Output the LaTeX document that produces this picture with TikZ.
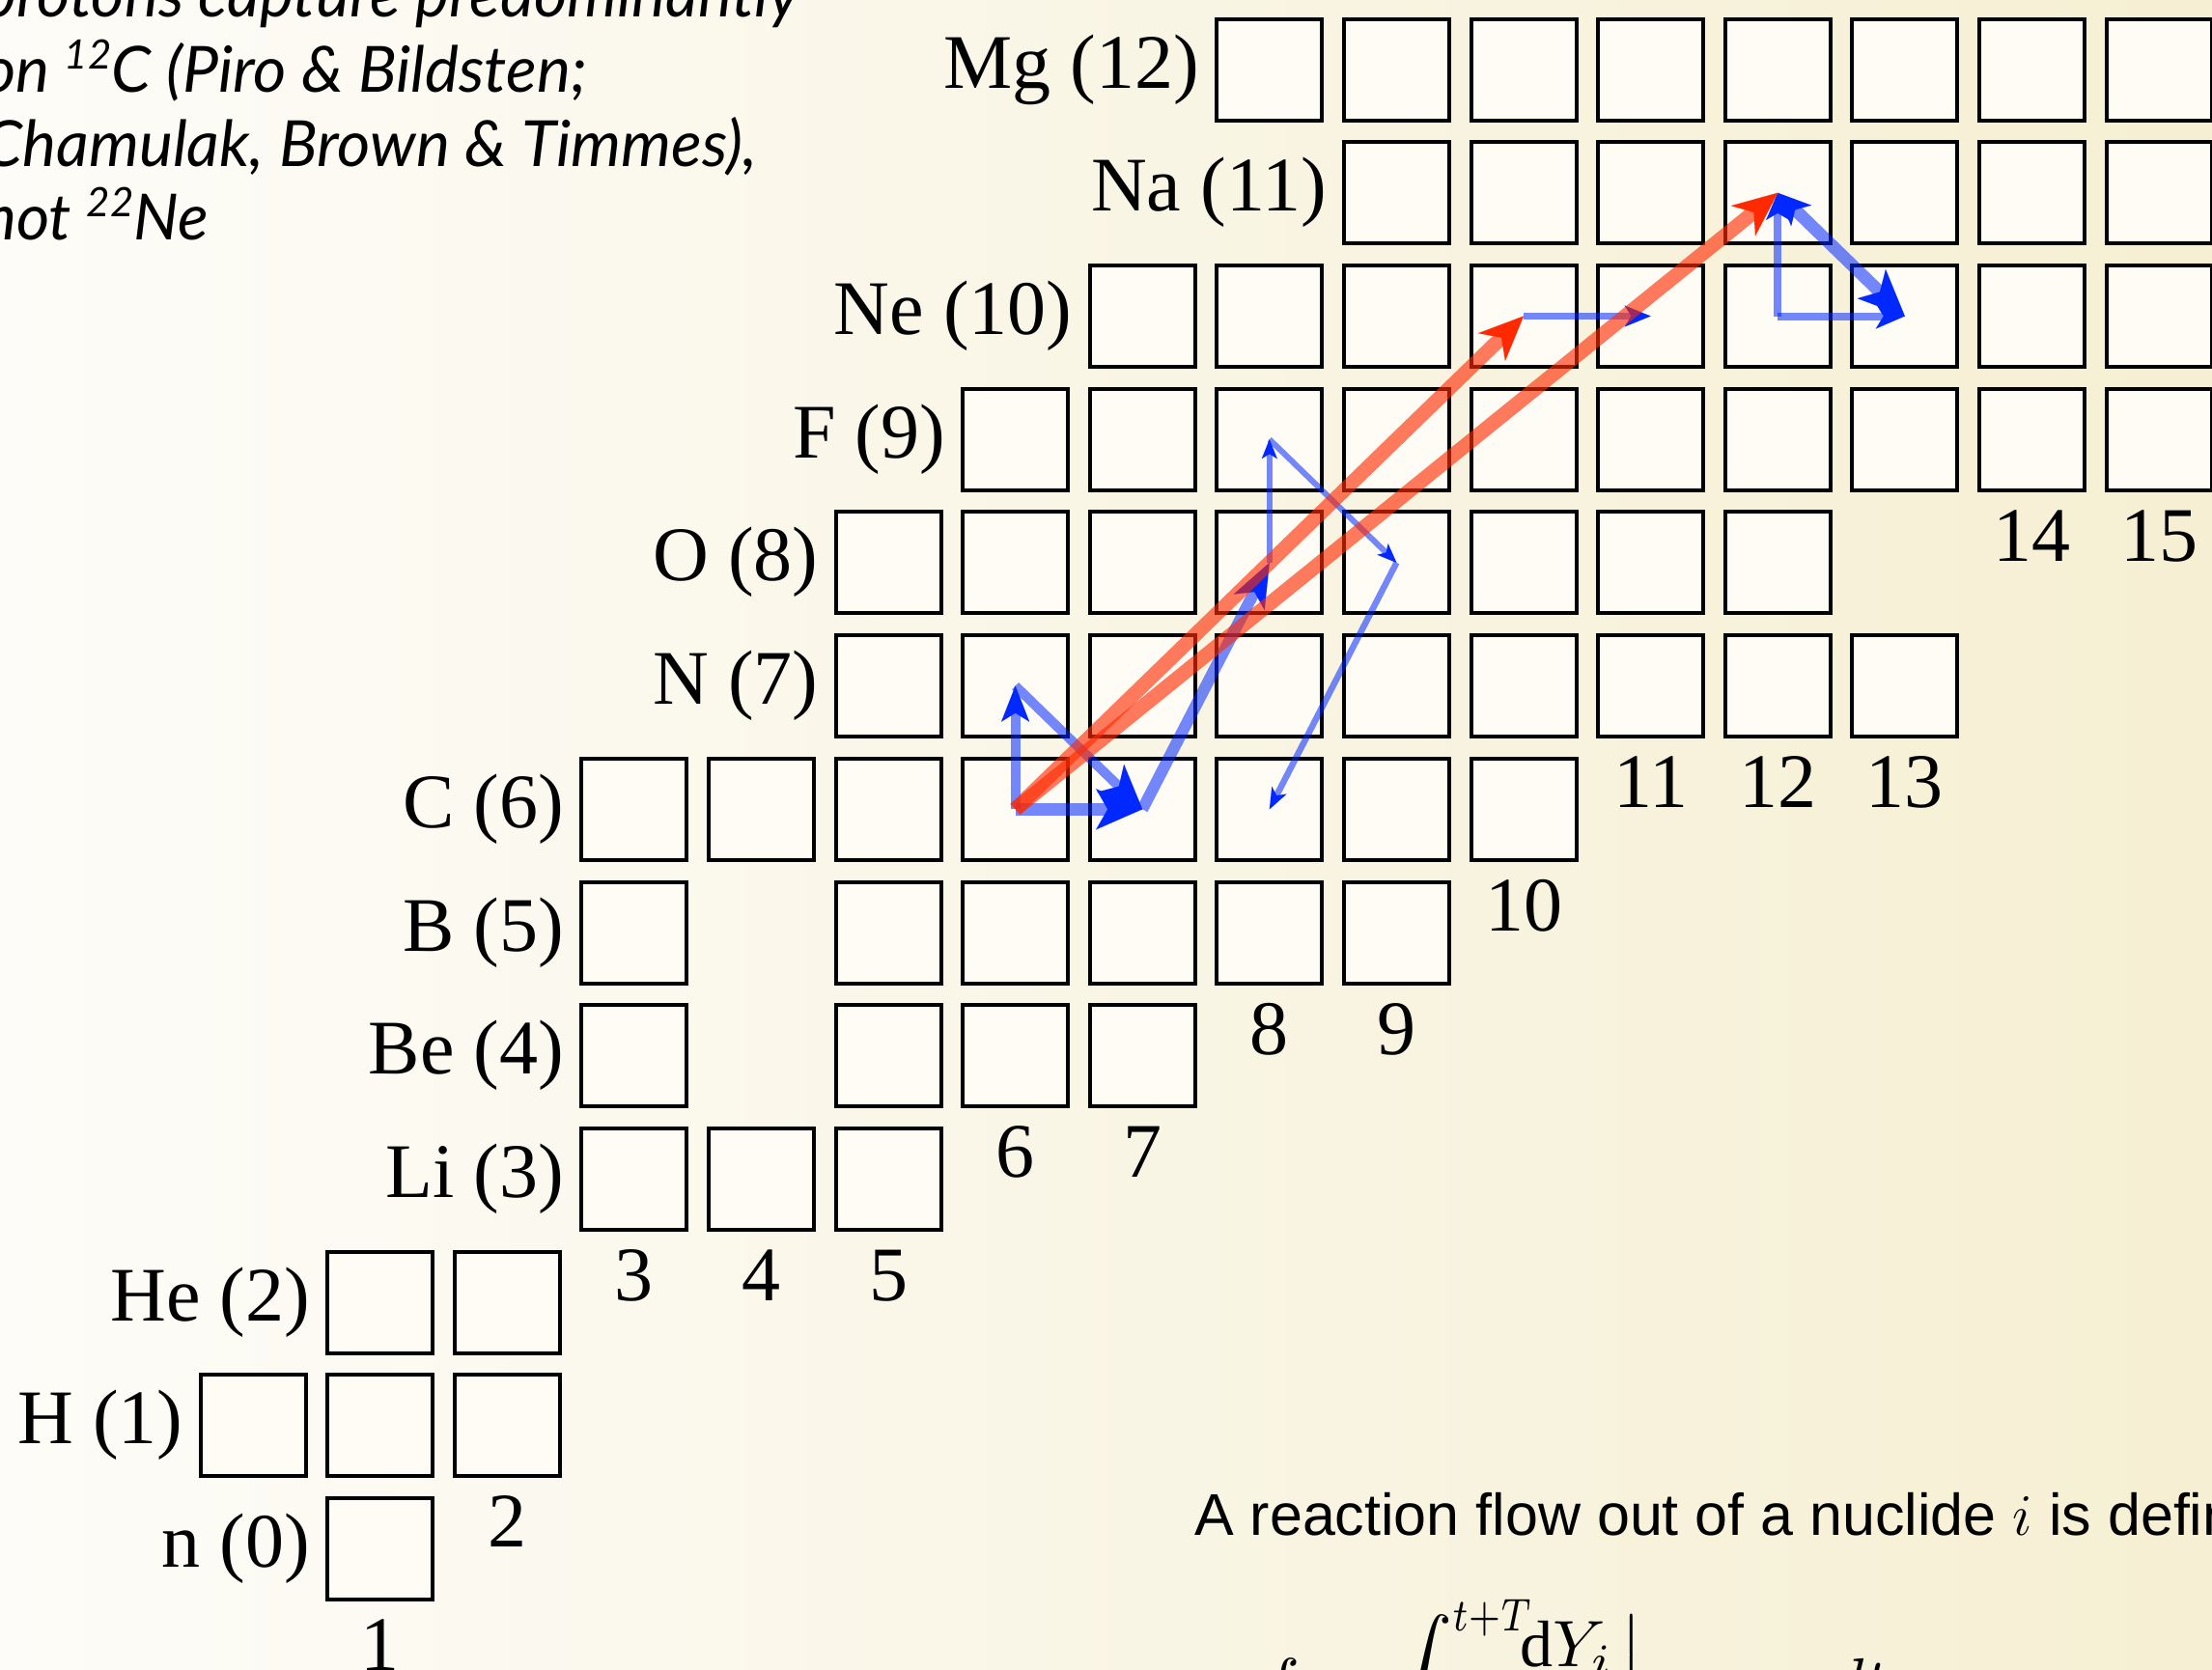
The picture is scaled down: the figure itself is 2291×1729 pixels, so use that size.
\RequirePackage{fix-cm}
\documentclass[tikz,border=0pt]{standalone}
\usepackage{graphicx}
\usepackage{fontspec}
\setmainfont{Liberation Serif}
\newfontfamily\capsans{Liberation Sans}
\newfontfamily\notesans{Lato}
\usetikzlibrary{arrows.meta,calc}
\definecolor{bgL}{RGB}{253,252,248}
\definecolor{bgR}{RGB}{246,239,211}
\definecolor{boxfill}{RGB}{255,252,245}
\definecolor{flowblue}{RGB}{0,40,255}
\definecolor{flowred}{RGB}{255,42,0}
\newcommand\bigserif{\fontsize{80}{96}\selectfont}
\newcommand\notefont{\notesans\itshape\fontsize{66}{77}\selectfont}
\newcommand\capfont{\capsans\fontsize{61}{72}\selectfont}
\newcommand\isosup[1]{\raisebox{24pt}{\fontsize{42}{42}\selectfont #1}}
\begin{document}
\begin{tikzpicture}[x=1pt,y=-1pt,
  nuc/.style={draw=black, line width=4pt, fill=boxfill, minimum width=109pt, minimum height=105pt, inner sep=0pt, outer sep=0pt},
  elem/.style={font=\bigserif, anchor=base east, inner sep=0pt},
  num/.style={font=\bigserif, anchor=base, inner sep=0pt},
  note/.style={font=\notefont, anchor=base west, inner sep=0pt},
  formula/.style={font=\fontsize{10}{12}\selectfont, anchor=base west, inner sep=0pt},
  blueline/.style={draw=flowblue, draw opacity=.55},
  redline/.style={draw=flowred, draw opacity=.62},
  head/.style n args={4}{draw=#1, fill=#1, line width=.01pt, -{Stealth[length=#2, width=#3, inset=#4]}},
]
\useasboundingbox (0,0) rectangle (2291,1729);
\clip (0,0) rectangle (2291,1729);
\shade[left color=bgL, right color=bgR] (0,0) rectangle (2291,1729);

% nuclide boxes
\foreach \z/\ns in {0/{1}, 1/{0,1,2}, 2/{1,2}, 3/{3,4,5}, 4/{3,5,6,7}, 5/{3,5,6,7,8,9}, 6/{3,...,10}, 7/{5,...,13}, 8/{5,...,12}, 9/{6,...,15}, 10/{7,...,15}, 11/{9,...,15}, 12/{8,...,15}}{
  \foreach \n in \ns {
    \node[nuc] (c\n x\z) at ({262+131.6*\n},{1604.5-127.7*\z}) {};
  }
}

% element labels
\foreach \z/\n/\lab in {0/1/n (0), 1/0/H (1), 2/1/He (2), 3/3/Li (3), 4/3/Be (4), 5/3/B (5), 6/3/C (6), 7/5/N (7), 8/5/O (8), 9/6/F (9), 10/7/Ne (10), 11/9/Na (11), 12/8/Mg (12)}{
  \node[elem] (lab\z) at ($(c\n x\z.center)+(-72.5,19)$) {\lab};
}

% neutron numbers
\foreach \n/\z in {1/0, 2/1, 3/3, 4/3, 5/3, 6/4, 7/4, 8/5, 9/5, 10/6, 11/7, 12/7, 13/7, 14/9, 15/9}{
  \node[num] (num\n) at ($(c\n x\z.center)+(0,126)$) {\n};
}

% blue flows
\draw[blueline, line width=10pt, shorten >=18pt] (c6x6.center) -- (c6x7.center);
\draw[head={flowblue}{37pt}{29pt}{9pt}] ($(c6x6.center)!.97!(c6x7.center)$) -- (c6x7.center);
\draw[blueline, line width=10pt, shorten >=24pt] (c6x7.center) -- (c7x6.center);
\draw[head={flowblue}{46pt}{40pt}{12pt}] ($(c6x7.center)!.97!(c7x6.center)$) -- (c7x6.center);
\draw[blueline, line width=13pt, shorten >=26pt] (c6x6.center) -- (c7x6.center);
\draw[head={flowblue}{48pt}{42pt}{12pt}] ($(c6x6.center)!.97!(c7x6.center)$) -- (c7x6.center);
\draw[blueline, line width=12pt, shorten >=24pt] (c7x6.center) -- (c8x8.center);
\draw[head={flowblue}{46pt}{36pt}{12pt}] ($(c7x6.center)!.97!(c8x8.center)$) -- (c8x8.center);
\draw[blueline, line width=6pt, shorten >=10pt] (c8x8.center) -- (c8x9.center);
\draw[head={flowblue}{20pt}{16pt}{5pt}] ($(c8x8.center)!.97!(c8x9.center)$) -- (c8x9.center);
\draw[blueline, line width=6pt, shorten >=10pt] (c8x9.center) -- (c9x8.center);
\draw[head={flowblue}{20pt}{16pt}{5pt}] ($(c8x9.center)!.97!(c9x8.center)$) -- (c9x8.center);
\draw[blueline, line width=6.5pt, shorten >=11pt] (c9x8.center) -- (c8x6.center);
\draw[head={flowblue}{22pt}{17pt}{6pt}] ($(c9x8.center)!.97!(c8x6.center)$) -- (c8x6.center);
\draw[blueline, line width=7pt, shorten >=13pt] (c10x10.center) -- (c11x10.center);
\draw[head={flowblue}{27pt}{22pt}{7pt}] ($(c10x10.center)!.97!(c11x10.center)$) -- (c11x10.center);
\draw[blueline, line width=8pt, shorten >=14pt] (c12x10.center) -- (c12x11.center);
\draw[head={flowblue}{28pt}{24pt}{7pt}] ($(c12x10.center)!.97!(c12x11.center)$) -- (c12x11.center);
\draw[blueline, line width=8pt, shorten >=14pt] (c12x10.center) -- (c13x10.center);
\draw[head={flowblue}{30pt}{26pt}{8pt}] ($(c12x10.center)!.97!(c13x10.center)$) -- (c13x10.center);
\draw[blueline, line width=13pt, shorten >=26pt, shorten <=18pt] (c12x11.center) -- (c13x10.center);
\draw[head={flowblue}{48pt}{42pt}{12pt}] ($(c12x11.center)!.97!(c13x10.center)$) -- (c13x10.center);
\draw[head={flowblue}{34pt}{30pt}{9pt}] ($(c13x10.center)!.97!(c12x11.center)$) -- (c12x11.center);

% red flows
\draw[redline, line width=15pt, shorten >=26pt] (c6x6.center) -- (c10x10.center);
\draw[head={flowred}{46pt}{40pt}{14pt}] ($(c6x6.center)!.97!(c10x10.center)$) -- (c10x10.center);
\draw[redline, line width=15pt, shorten >=26pt] (c6x6.center) -- (c12x11.center);
\draw[head={flowred}{46pt}{40pt}{14pt}] ($(c6x6.center)!.97!(c12x11.center)$) -- (c12x11.center);

% note, top left
\node[note] (note1) at (-18,17.5) {protons capture predominantly};
\node[note] (note2) at (-18,95) {on \isosup{12}C (Piro \& Bildsten;};
\node[note] (note3) at (-18,172) {Chamulak, Brown \& Timmes),};
\node[note] (note4) at (-18,248) {not \isosup{22}Ne};

% text, bottom right
\node[anchor=base west, inner sep=0pt, font=\capfont] (flowtext) at (1237,1590) {A reaction flow out of a nuclide $i$ is defined};
\node[formula] (flux) at (1305,1765) {\scalebox{6.8}{$\displaystyle f = \int^{\scalebox{0.8}[1]{$\scriptstyle t+T$}}$}};
\node[formula] (fluxfrac) at (1558,1772) {\scalebox{6.8}{$\displaystyle\left.\frac{\mathrm{d}Y_i}{\mathrm{d}t}\right|$}};
\node[formula] (fluxdt) at (1895,1765) {\scalebox{6.8}{$dt$}};
\end{tikzpicture}
\end{document}
